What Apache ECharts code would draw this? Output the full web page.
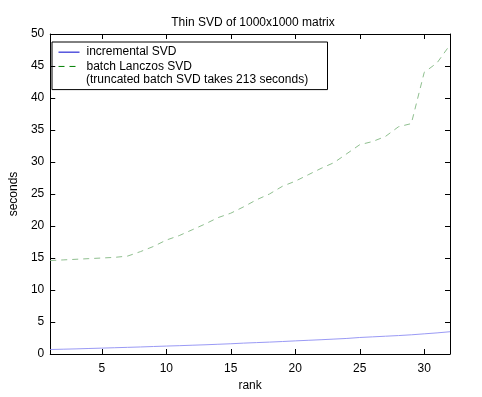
<!DOCTYPE html>
<html>
<head>
<meta charset="utf-8">
<script src="https://cdn.jsdelivr.net/npm/echarts@6/dist/echarts.min.js"></script>
<style>
  html, body { margin: 0; padding: 0; background: #fff; }
  #chart { width: 482px; height: 397px; }
</style>
</head>
<body>
<div id="chart"></div>
<script>
// data
var ranks = [1, 2, 3, 4, 5, 6, 7, 8, 9, 10, 11, 12, 13, 14, 15, 16,
  17, 18, 19, 20, 21, 22, 23, 24, 25, 26, 27, 28, 29, 30, 31, 32];
var incrementalSvd = [0.70, 0.75, 0.80, 0.86, 0.92, 0.98, 1.04, 1.10, 1.17, 1.24, 1.30, 1.37, 1.44, 1.52, 1.60, 1.70,
  1.78, 1.86, 1.95, 2.05, 2.14, 2.23, 2.33, 2.43, 2.58, 2.68, 2.78, 2.88, 3.00, 3.15, 3.30, 3.48];
var batchLanczos = [14.6, 14.7, 14.8, 14.9, 15.0, 15.1, 15.3, 16.0, 16.8, 17.8, 18.5, 19.4, 20.3, 21.3, 22.0, 23.0,
  24.1, 25.0, 26.2, 27.0, 28.0, 29.0, 29.9, 31.3, 32.7, 33.2, 34.0, 35.5, 36.0, 44.0, 45.5, 48.3];
var xTickVals = [5, 10, 15, 20, 25, 30];
var yTickVals = [5, 10, 15, 20, 25, 30, 35, 40, 45];
var seriesNames = ['incremental SVD', 'batch Lanczos SVD'];
var noteText = '(truncated batch SVD takes 213 seconds)';

var font = 'Liberation Sans, Arial, Helvetica, sans-serif';

function pairs(xs, ys) {
  return xs.map(function (x, i) { return [x, ys[i]]; });
}

var chart = echarts.init(document.getElementById('chart'));

function xAxisOf(pos, withLabels) {
  return {
    type: 'value',
    position: pos,
    min: 1,
    max: 32,
    splitNumber: 6,
    name: withLabels ? 'rank' : '',
    nameLocation: 'middle',
    nameGap: 23,
    nameTextStyle: { fontFamily: font, fontSize: 12, color: '#000' },
    axisLine: { show: true, onZero: false, lineStyle: { color: '#000', width: 1 } },
    axisTick: { show: false },
    axisLabel: { show: withLabels, showMinLabel: false, showMaxLabel: false, margin: 9, fontFamily: font, fontSize: 12, color: '#000' },
    splitLine: { show: false }
  };
}
function yAxisOf(pos, withLabels) {
  return {
    type: 'value',
    position: pos,
    min: 0,
    max: 50,
    interval: 5,
    name: withLabels ? 'seconds' : '',
    nameLocation: 'middle',
    nameGap: 22,
    nameTextStyle: { fontFamily: font, fontSize: 12, color: '#000' },
    axisLine: { show: true, onZero: false, lineStyle: { color: '#000', width: 1 } },
    axisTick: { show: false },
    axisLabel: { show: withLabels, margin: 6, fontFamily: font, fontSize: 12, color: '#000' },
    splitLine: { show: false }
  };
}

var noteGraphic = {
  type: 'text',
  left: 86,
  top: 74,
  z: 100,
  style: { text: noteText, font: '12px ' + font, fill: '#000' }
};

var option = {
  animation: false,
  backgroundColor: '#fff',
  title: {
    text: 'Thin SVD of 1000x1000 matrix',
    left: 248,
    textAlign: 'center',
    top: 12,
    textStyle: { fontFamily: font, fontSize: 12, fontWeight: 'normal', color: '#000' }
  },
  grid: { left: 45, right: 32, top: 34, bottom: 43 },
  legend: {
    orient: 'vertical',
    left: 52,
    top: 42,
    padding: [3, 5, 16, 6],
    itemGap: 0,
    itemWidth: 21,
    itemHeight: 14,
    borderColor: '#000',
    borderWidth: 1,
    borderRadius: 0,
    backgroundColor: '#fff',
    itemStyle: { opacity: 0 },
    data: [
      { name: seriesNames[0], itemStyle: { opacity: 0 }, lineStyle: { color: '#0000cc', width: 1 } },
      { name: seriesNames[1], itemStyle: { opacity: 0 }, lineStyle: { color: '#008000', width: 1 } }
    ],
    textStyle: { fontFamily: font, fontSize: 12, color: '#000', width: 236, lineHeight: 14.3, padding: [0, 0, 0, 2] }
  },
  graphic: [noteGraphic],
  xAxis: [xAxisOf('bottom', true), xAxisOf('top', false)],
  yAxis: [yAxisOf('left', true), yAxisOf('right', false)],
  series: [
    {
      name: seriesNames[0],
      type: 'line',
      xAxisIndex: 0,
      yAxisIndex: 0,
      showSymbol: false,
      symbol: 'none',
      color: '#9a9af5',
      lineStyle: { color: '#9a9af5', width: 1 },
      data: pairs(ranks, incrementalSvd)
    },
    {
      name: seriesNames[1],
      type: 'line',
      xAxisIndex: 0,
      yAxisIndex: 0,
      showSymbol: false,
      symbol: 'none',
      color: '#8fbf8f',
      lineStyle: { color: '#8fbf8f', width: 1, type: [6, 5] },
      data: pairs(ranks, batchLanczos)
    },
    {
      // empty series so the mirrored frame axes are drawn
      name: 'frame',
      type: 'line',
      xAxisIndex: 1,
      yAxisIndex: 1,
      symbol: 'none',
      silent: true,
      data: []
    }
  ]
};

chart.setOption(option);

// inside axis ticks did not render, so draw them from the axis scale
var tickLen = 5;
function px(x, y) {
  return chart.convertToPixel({ seriesIndex: 0 }, [x, y]);
}
function crisp(v) {
  return Math.round(v) + 0.5;
}
function tickLine(x1, y1, x2, y2) {
  return {
    type: 'line',
    z: 90,
    silent: true,
    shape: { x1: x1, y1: y1, x2: x2, y2: y2 },
    style: { stroke: '#000', lineWidth: 1 }
  };
}
var tickEls = [noteGraphic];
xTickVals.forEach(function (v) {
  var b = px(v, 0), t = px(v, 50);
  var x = crisp(b[0]);
  tickEls.push(tickLine(x, b[1], x, b[1] - tickLen));
  tickEls.push(tickLine(x, t[1], x, t[1] + tickLen));
});
yTickVals.forEach(function (v) {
  var l = px(1, v), r = px(32, v);
  var y = crisp(l[1]);
  tickEls.push(tickLine(l[0], y, l[0] + tickLen, y));
  tickEls.push(tickLine(r[0], y, r[0] - tickLen, y));
});
chart.setOption({ graphic: tickEls });
</script>
</body>
</html>
